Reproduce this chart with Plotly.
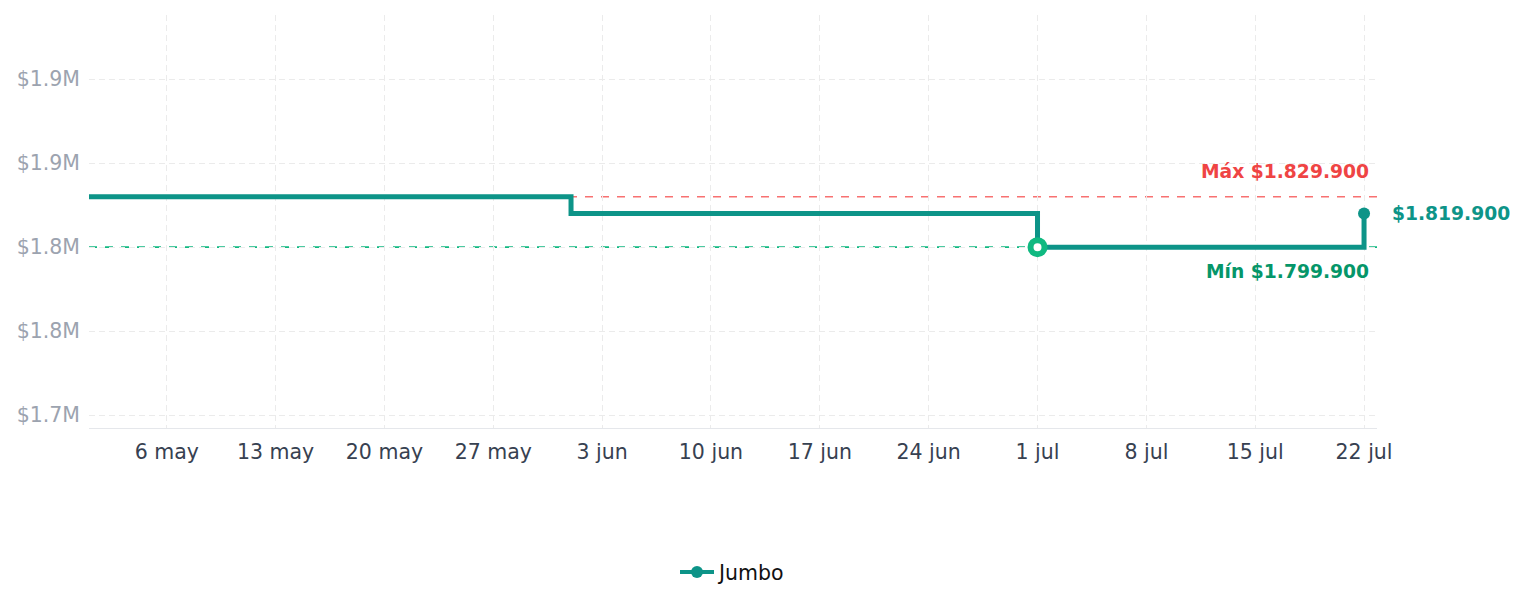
import plotly.graph_objects as go

# ---- data ----
dates = ["2024-05-01", "2024-06-01", "2024-07-01", "2024-07-22"]
prices = [1829900, 1819900, 1799900, 1819900]
series_name = "Jumbo"

max_price = 1829900
min_price = 1799900
min_date = "2024-07-01"
last_date = "2024-07-22"
last_price = 1819900

x_tick_vals = ["2024-05-06", "2024-05-13", "2024-05-20", "2024-05-27", "2024-06-03",
               "2024-06-10", "2024-06-17", "2024-06-24", "2024-07-01", "2024-07-08",
               "2024-07-15", "2024-07-22"]
x_tick_text = ["6 may", "13 may", "20 may", "27 may", "3 jun", "10 jun", "17 jun",
               "24 jun", "1 jul", "8 jul", "15 jul", "22 jul"]
y_tick_vals = [1700000, 1750000, 1800000, 1850000, 1900000]
y_tick_text = ["$1.7M", "$1.8M", "$1.8M", "$1.9M", "$1.9M"]

max_label = "Máx $1.829.900"
min_label = "Mín $1.799.900"
last_label = "$1.819.900"

TEAL = "#0d9488"
FONT = "DejaVu Sans"

fig = go.Figure()

fig.add_shape(type="line", xref="paper", x0=0, x1=1, yref="y", y0=max_price, y1=max_price,
              line=dict(color="#f87171", width=1.7, dash="8px,8px"), layer="between")
fig.add_shape(type="line", xref="paper", x0=0, x1=1, yref="y", y0=min_price, y1=min_price,
              line=dict(color="#10b981", width=1.7, dash="8px,8px"), layer="between")

fig.add_trace(go.Scatter(
    x=dates, y=prices, mode="lines", line=dict(color=TEAL, width=5, shape="hv"),
    showlegend=False, hoverinfo="skip"))

fig.add_trace(go.Scatter(
    x=[min_date], y=[min_price], mode="markers",
    marker=dict(size=14, color="white", line=dict(color="#10b981", width=6)),
    showlegend=False))

fig.add_trace(go.Scatter(
    x=[last_date], y=[last_price], mode="markers",
    marker=dict(size=12, color=TEAL), showlegend=False))

# legend entry
fig.add_trace(go.Scatter(
    x=[None], y=[None], mode="lines+markers", name=series_name,
    line=dict(color=TEAL, width=4), marker=dict(size=12, color=TEAL)))

fig.add_annotation(text=max_label, xref="paper", x=1, xanchor="right", xshift=-6,
                   yref="y", y=max_price, yanchor="middle", yshift=25, showarrow=False,
                   font=dict(family=FONT, size=18.7, color="#ef4444", weight="bold"))
fig.add_annotation(text=min_label, xref="paper", x=1, xanchor="right", xshift=-6,
                   yref="y", y=min_price, yanchor="middle", yshift=-24, showarrow=False,
                   font=dict(family=FONT, size=18.7, color="#059669", weight="bold"))
fig.add_annotation(text=last_label, x=last_date, xanchor="left", xshift=26,
                   y=last_price, yanchor="middle", yshift=0, showarrow=False,
                   font=dict(family=FONT, size=18.7, color=TEAL, weight="bold"))

GRID = "#ebebeb"
fig.update_layout(
    width=1524, height=607,
    margin=dict(l=89, r=147, t=15, b=179),
    paper_bgcolor="white", plot_bgcolor="white",
    font=dict(family=FONT, size=20.5),
    xaxis=dict(type="date", range=["2024-05-01", "2024-07-22 20:00"],
               tickvals=x_tick_vals, ticktext=x_tick_text,
               showgrid=True, gridcolor=GRID, griddash="6px,4px", gridwidth=1,
               showline=True, linecolor="#e5e7eb", linewidth=1,
               ticks="", zeroline=False, ticklabelstandoff=5,
               tickfont=dict(family=FONT, size=20.5, color="#374151")),
    yaxis=dict(range=[1692262, 1938095], tickvals=y_tick_vals, ticktext=y_tick_text,
               showgrid=True, gridcolor=GRID, griddash="6px,4px", gridwidth=1,
               showline=False, zeroline=False, ticks="", ticklabelstandoff=8,
               tickfont=dict(family=FONT, size=20.5, color="#9ca3af")),
    legend=dict(orientation="h", x=0.5, xanchor="center", y=-0.349, yanchor="middle",
                itemwidth=34,
                font=dict(family=FONT, size=20.5, color="#111111")),
    hovermode=False,
)

fig.write_html("out.html")
